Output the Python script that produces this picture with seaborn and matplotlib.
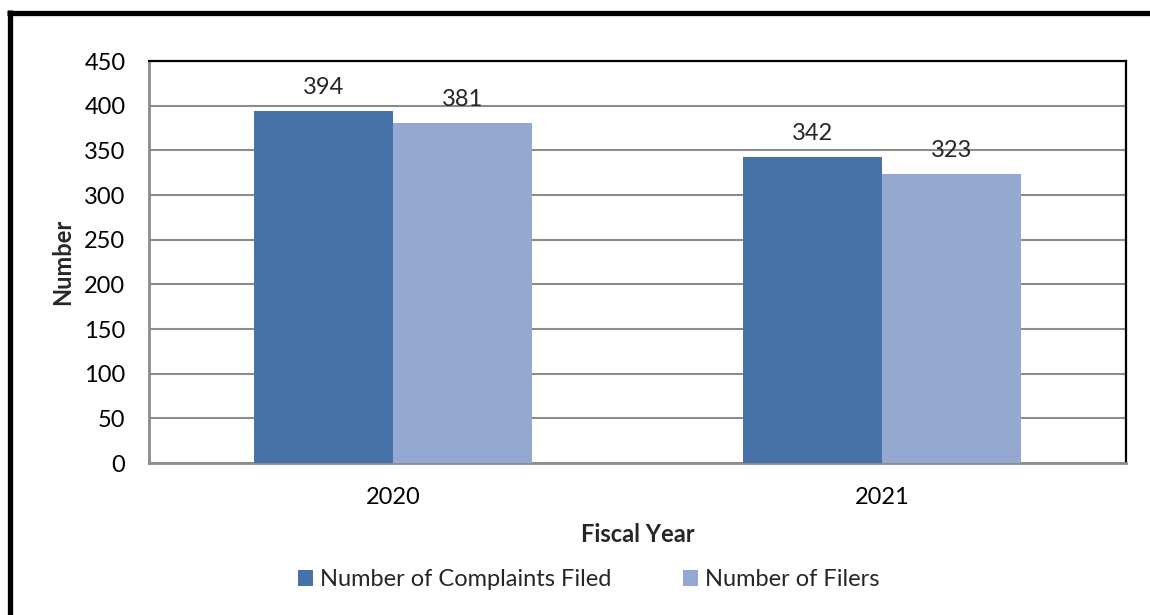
import matplotlib
matplotlib.use("Agg")
import matplotlib.pyplot as plt
import seaborn as sns
import pandas as pd
from matplotlib.lines import Line2D
from matplotlib.patches import Patch

# datos del gráfico
anios = ["2020", "2021"]
series = ["Number of Complaints Filed", "Number of Filers"]
quejas = [394, 342]
personas = [381, 323]
colores = ["#4672A8", "#95A9D0"]

df = pd.DataFrame({
    "anio": anios * 2,
    "serie": [series[0]] * 2 + [series[1]] * 2,
    "valor": quejas + personas,
})

sns.set_theme(style="white")
plt.rcParams["font.family"] = ["Lato", "DejaVu Sans"]
TAM = 17

fig = plt.figure(figsize=(11.5, 6.15), dpi=100)
ax = fig.add_axes([149 / 1150, 1 - 463 / 615, 977 / 1150, 402 / 615])

sns.barplot(data=df, x="anio", y="valor", hue="serie", palette=colores,
            width=0.57, saturation=1, linewidth=0, ax=ax, legend=False, zorder=3)

ax.set_ylim(0, 450)
ax.set_xlim(-0.5, 1.5)
ax.set_yticks(range(0, 451, 50))
ax.yaxis.grid(True, color="#8c8c8c", linewidth=1.5, zorder=0)
ax.set_axisbelow(True)
ax.tick_params(axis="y", labelsize=TAM, length=0, pad=17, colors="black")
ax.tick_params(axis="x", labelsize=TAM, length=0, pad=17, colors="black")

# etiquetas encima de cada barra
for barra in ax.patches:
    h = barra.get_height()
    if h > 0:
        ax.annotate(f"{h:.0f}", (barra.get_x() + barra.get_width() / 2, h),
                    xytext=(0, 17), textcoords="offset points",
                    ha="center", va="center", fontsize=TAM, zorder=4)

ax.set_xlabel("Fiscal Year", fontsize=TAM, fontweight="bold", labelpad=11)
ax.set_ylabel("Number", fontsize=TAM, fontweight="bold", labelpad=7)

# bordes del área de trazado
ax.spines["top"].set_color("black")
ax.spines["right"].set_color("black")
ax.spines["top"].set_linewidth(1.6)
ax.spines["right"].set_linewidth(1.6)
ax.spines["left"].set_color("#8c8c8c")
ax.spines["bottom"].set_color("#8c8c8c")
ax.spines["left"].set_linewidth(2)
ax.spines["bottom"].set_linewidth(2)

# leyenda abajo
manejadores = [Patch(facecolor=c, edgecolor="none") for c in colores]
fig.legend(manejadores, series, loc="center", bbox_to_anchor=(0.512, 1 - 580 / 615),
           ncol=2, frameon=False, fontsize=TAM, handlelength=0.65, handleheight=0.65,
           handletextpad=0.3, columnspacing=3.0)

# marco exterior (solo izquierda y arriba)
fig.add_artist(Line2D([9.5 / 1150, 9.5 / 1150], [0, 1 - 10 / 615],
                      transform=fig.transFigure, color="black", linewidth=3.8,
                      solid_capstyle="butt"))
fig.add_artist(Line2D([7 / 1150, 1], [1 - 12.5 / 615, 1 - 12.5 / 615],
                      transform=fig.transFigure, color="black", linewidth=3.8,
                      solid_capstyle="butt"))

fig.savefig("out.png", dpi=100)
